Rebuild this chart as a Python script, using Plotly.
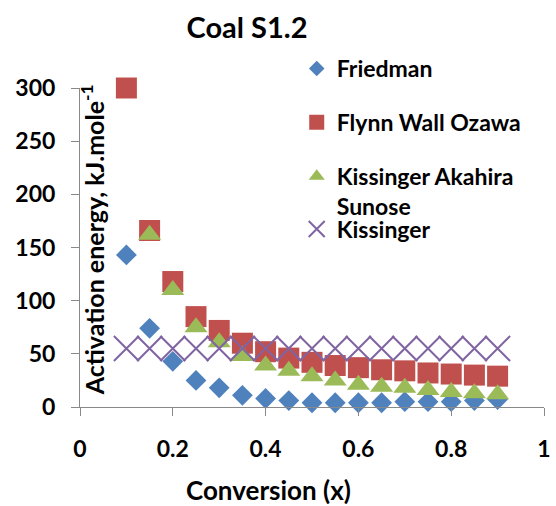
import plotly.graph_objects as go

# Conversion levels (x) at which activation energy was evaluated
conversion = [0.10, 0.15, 0.20, 0.25, 0.30, 0.35, 0.40, 0.45, 0.50,
              0.55, 0.60, 0.65, 0.70, 0.75, 0.80, 0.85, 0.90]

# Activation energy (kJ/mol) by method
friedman = [143, 74, 43, 25, 18, 11, 8, 6, 4, 4, 4, 4, 5, 5, 5, 6, 7]
flynn_wall_ozawa = [300, 166, 118, 85, 72, 60, 52, 46, 42, 39, 37, 35, 34, 32, 31, 30, 29]
kissinger_akahira_sunose = [None, 162, 110, 75, 61, 48, 39, 34, 29, 25, 21, 19, 18, 16, 14, 13, 12]
kissinger = [55, 55, 55, 55, 55, 55, 55, 55, 55, 55, 55, 55, 55, 55, 55, 55, 55]

x_tick_vals = [0, 0.2, 0.4, 0.6, 0.8, 1]
x_tick_text = ["0", "0.2", "0.4", "0.6", "0.8", "1"]
y_tick_vals = [0, 50, 100, 150, 200, 250, 300]

FONT = "Lato"
BLUE = "#4F81BD"
RED = "#C0504D"
GREEN = "#9BBB59"
PURPLE = "#8064A2"
AXIS = "#898989"

fig = go.Figure()

# Data series (legend entries are drawn separately so their symbols stay small)
fig.add_trace(go.Scatter(x=conversion, y=friedman, mode="markers", showlegend=False,
                         cliponaxis=False,
                         marker=dict(symbol="diamond", size=16, color=BLUE, line=dict(width=0))))
fig.add_trace(go.Scatter(x=conversion, y=flynn_wall_ozawa, mode="markers", showlegend=False,
                         cliponaxis=False,
                         marker=dict(symbol="square", size=21, color=RED, line=dict(width=0))))
fig.add_trace(go.Scatter(x=conversion, y=kissinger_akahira_sunose, mode="markers", showlegend=False,
                         cliponaxis=False,
                         marker=dict(symbol="triangle-up", size=20, color=GREEN, line=dict(width=0))))
fig.add_trace(go.Scatter(x=conversion, y=kissinger, mode="markers", showlegend=False,
                         cliponaxis=False,
                         marker=dict(symbol="x-thin", size=25, color=PURPLE,
                                     line=dict(width=2, color=PURPLE))))

# Legend entries
fig.add_trace(go.Scatter(x=[None], y=[None], mode="markers", name="Friedman",
                         legend="legend", legendgroup="a",
                         marker=dict(symbol="diamond", size=12, color=BLUE, line=dict(width=0))))
fig.add_trace(go.Scatter(x=[None], y=[None], mode="markers", name="Flynn Wall Ozawa",
                         legend="legend", legendgroup="b",
                         marker=dict(symbol="square", size=15, color=RED, line=dict(width=0))))
fig.add_trace(go.Scatter(x=[None], y=[None], mode="markers", name="Kissinger Akahira<br>Sunose",
                         legend="legend", legendgroup="c",
                         marker=dict(symbol="triangle-up", size=14, color=GREEN, line=dict(width=0))))
fig.add_trace(go.Scatter(x=[None], y=[None], mode="markers", name="Kissinger",
                         legend="legend2",
                         marker=dict(symbol="x-thin", size=16, color=PURPLE,
                                     line=dict(width=2, color=PURPLE))))

tick_font = dict(family=FONT, size=23, color="black", weight="bold")
legend_font = dict(family=FONT, size=23, color="black", weight="bold")

fig.update_layout(
    width=556, height=506,
    margin=dict(l=80, r=5, t=88, b=99),
    paper_bgcolor="white", plot_bgcolor="white",
    title=dict(text="Coal S1.2", x=247 / 556, xanchor="center",
               y=1 - 28 / 506, yanchor="middle",
               font=dict(family=FONT, size=29, color="black", weight="bold")),
    xaxis=dict(range=[0, 1], tickvals=x_tick_vals, ticktext=x_tick_text,
               ticks="outside", ticklen=8, tickcolor=AXIS, tickwidth=1,
               showline=True, linecolor=AXIS, linewidth=1,
               showgrid=False, zeroline=False, tickfont=tick_font,
               ticklabelstandoff=13, ticklabeloverflow="allow"),
    yaxis=dict(range=[0, 300], tickvals=y_tick_vals,
               ticks="outside", ticklen=8, tickcolor=AXIS, tickwidth=1,
               showline=True, linecolor=AXIS, linewidth=1,
               showgrid=False, zeroline=False, tickfont=tick_font,
               ticklabelstandoff=11),
    legend=dict(x=(300 - 80) / 471, xanchor="left", y=(407 - 47) / 319, yanchor="top",
                bgcolor="rgba(0,0,0,0)", font=legend_font, valign="top",
                tracegroupgap=21, traceorder="grouped"),
    legend2=dict(x=(300 - 80) / 471, xanchor="left", y=(407 - 229) / 319, yanchor="middle",
                 bgcolor="rgba(0,0,0,0)", font=legend_font),
    annotations=[
        dict(text="Conversion (x)", xref="paper", yref="paper",
             x=(271 - 80) / 471, y=(407 - 490) / 319, xanchor="center", yanchor="middle",
             showarrow=False, font=dict(family=FONT, size=26, color="black", weight="bold")),
        dict(text="Activation energy, kJ.mole<sup>-1</sup>", xref="paper", yref="paper",
             x=(92.5 - 80) / 471, y=(407 - 240) / 319, xanchor="center", yanchor="middle",
             textangle=-90, showarrow=False,
             font=dict(family=FONT, size=25, color="black", weight="bold")),
    ],
)

fig.write_html("out.html")
